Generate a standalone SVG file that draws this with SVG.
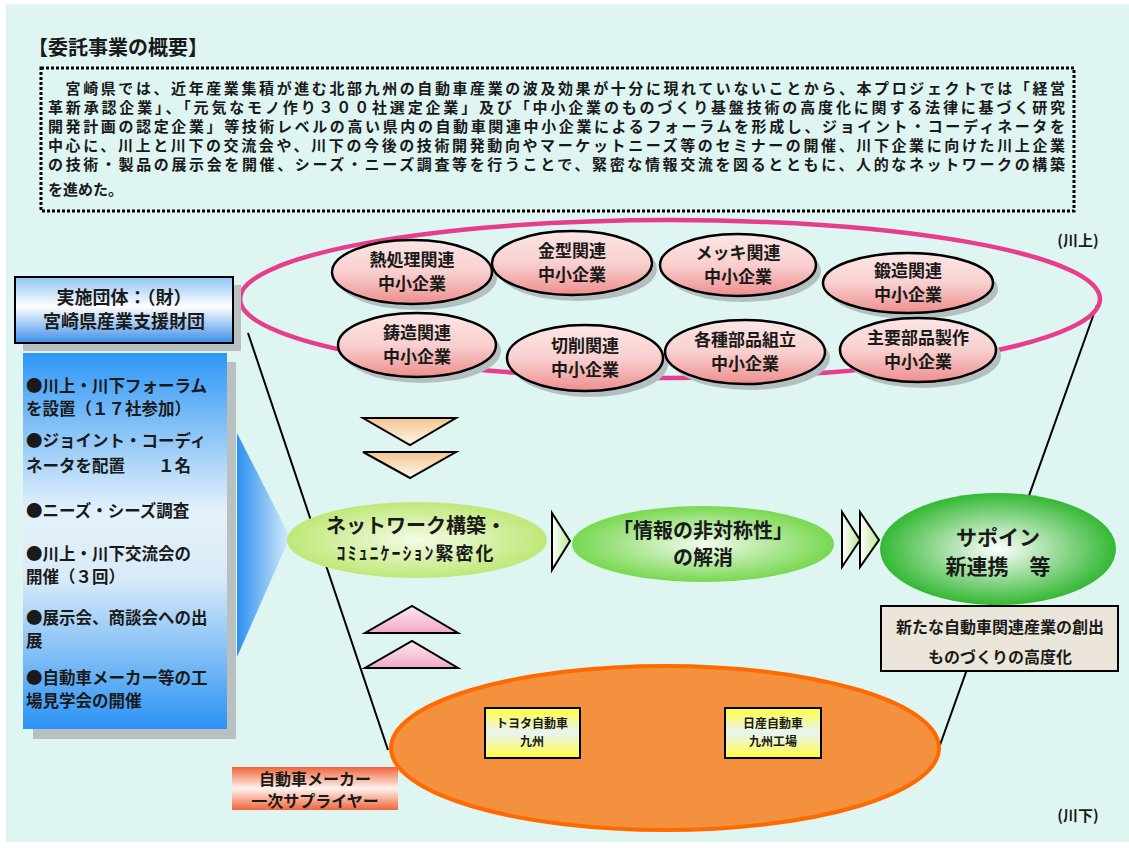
<svg xmlns="http://www.w3.org/2000/svg" width="1129" height="848" viewBox="0 0 1129 848">
<defs>
<linearGradient id="gPink" x1="0" y1="0" x2="0" y2="1"><stop offset="0" stop-color="#fbe6e4"/><stop offset="0.5" stop-color="#f8d0cf"/><stop offset="1" stop-color="#ee8e8e"/></linearGradient>
<linearGradient id="gBlue1" x1="0" y1="0" x2="0" y2="1"><stop offset="0" stop-color="#8ec4f2"/><stop offset="0.45" stop-color="#ffffff"/><stop offset="1" stop-color="#3a8ee8"/></linearGradient>
<linearGradient id="gBlue2" x1="0" y1="0" x2="0" y2="1"><stop offset="0" stop-color="#2e96f6"/><stop offset="0.42" stop-color="#e4f1fa"/><stop offset="0.6" stop-color="#d8ebf8"/><stop offset="1" stop-color="#2a92f4"/></linearGradient>
<linearGradient id="gTri" x1="0" y1="0" x2="1" y2="0"><stop offset="0" stop-color="#2d8ff0"/><stop offset="1" stop-color="#d6eefa"/></linearGradient>
<linearGradient id="gDown" x1="0" y1="0" x2="0" y2="1"><stop offset="0" stop-color="#f3c58f"/><stop offset="1" stop-color="#fdf6ea"/></linearGradient>
<linearGradient id="gUp" x1="0" y1="0" x2="0" y2="1"><stop offset="0" stop-color="#fde8f0"/><stop offset="1" stop-color="#f2a9c8"/></linearGradient>
<linearGradient id="gYel" x1="0" y1="0" x2="0" y2="1"><stop offset="0" stop-color="#ffff40"/><stop offset="0.5" stop-color="#e8f4f4"/><stop offset="1" stop-color="#ffff40"/></linearGradient>
<linearGradient id="gOrg" x1="0" y1="0" x2="0" y2="1"><stop offset="0" stop-color="#f0643a"/><stop offset="0.5" stop-color="#fff4ee"/><stop offset="1" stop-color="#f0643a"/></linearGradient>
<linearGradient id="gChev" x1="0" y1="0" x2="1" y2="0"><stop offset="0" stop-color="#ffffff"/><stop offset="1" stop-color="#b8e890"/></linearGradient>
<radialGradient id="gLG" cx="0.5" cy="0.5" r="0.5"><stop offset="0" stop-color="#f4fbe6"/><stop offset="1" stop-color="#bfe878"/></radialGradient>
<radialGradient id="gMG" cx="0.5" cy="0.5" r="0.5"><stop offset="0" stop-color="#f2fbee"/><stop offset="1" stop-color="#78d850"/></radialGradient>
<radialGradient id="gDG" cx="0.5" cy="0.5" r="0.5"><stop offset="0" stop-color="#ffffff"/><stop offset="1" stop-color="#34b834"/></radialGradient>
<style>
text{font-family:"Noto Sans CJK JP","Noto Sans CJK SC",sans-serif;font-weight:bold;fill:#1a1a1a}
.body{font-size:15px}
.sm{font-size:17px;text-anchor:middle}
.se{fill:url(#gPink);stroke:#000;stroke-width:2.5}
.sh{fill:#b4c0c0}
.ln{stroke:#000;stroke-width:2;fill:none}
.c{text-anchor:middle}
.bl{font-size:16.5px}
</style>
</defs>
<rect x="0" y="0" width="1129" height="848" fill="#ffffff"/>
<rect x="6" y="4" width="1123" height="838" fill="#dff5f2"/>

<g id="summary">
<text x="28" y="55" style="font-size:20px">【委託事業の概要】</text>
<rect x="41" y="68" width="1033" height="143" fill="none" stroke="#000" stroke-width="3" stroke-dasharray="3 2"/>
<text class="body" x="48" y="94" textLength="1017" lengthAdjust="spacing">　宮崎県では、近年産業集積が進む北部九州の自動車産業の波及効果が十分に現れていないことから、本プロジェクトでは「経営</text>
<text class="body" x="48" y="113" textLength="1017" lengthAdjust="spacing">革新承認企業」、「元気なモノ作り３００社選定企業」及び「中小企業のものづくり基盤技術の高度化に関する法律に基づく研究</text>
<text class="body" x="48" y="132" textLength="1017" lengthAdjust="spacing">開発計画の認定企業」等技術レベルの高い県内の自動車関連中小企業によるフォーラムを形成し、ジョイント・コーディネータを</text>
<text class="body" x="48" y="151" textLength="1017" lengthAdjust="spacing">中心に、川上と川下の交流会や、川下の今後の技術開発動向やマーケットニーズ等のセミナーの開催、川下企業に向けた川上企業</text>
<text class="body" x="48" y="170" textLength="1017" lengthAdjust="spacing">の技術・製品の展示会を開催、シーズ・ニーズ調査等を行うことで、緊密な情報交流を図るとともに、人的なネットワークの構築</text>
<text class="body" x="48" y="195">を進めた。</text>
</g>

<g id="connectors">
<line class="ln" x1="248" y1="333" x2="388" y2="750"/>
<line class="ln" x1="1097" y1="305" x2="940" y2="745"/>
<polygon points="237,433 290,537 237,657" fill="url(#gTri)"/>
<polygon points="363,418 456,418 410,445" fill="url(#gDown)" stroke="#000" stroke-width="2"/>
<polygon points="363,452 456,452 410,478" fill="url(#gDown)" stroke="#000" stroke-width="2"/>
<polygon points="365,633 458,633 412,606" fill="url(#gUp)" stroke="#000" stroke-width="2"/>
<polygon points="365,668 458,668 412,641" fill="url(#gUp)" stroke="#000" stroke-width="2"/>
<polygon points="552,513 570,541 552,570" fill="url(#gChev)" stroke="#000" stroke-width="2"/>
<polygon points="842,512 860,540 842,567" fill="url(#gChev)" stroke="#000" stroke-width="2"/>
<polygon points="860,512 879,540 860,567" fill="url(#gChev)" stroke="#000" stroke-width="2"/>
</g>

<g id="upstream">
<ellipse cx="670" cy="299" rx="430" ry="79" fill="none" stroke="#e83c8c" stroke-width="4.5"/>
<text x="1078" y="246" class="c" style="font-size:15px">(川上)</text>
</g>

<g id="node-netsushori"><ellipse class="sh" cx="417" cy="278" rx="80" ry="32"/><ellipse class="se" cx="412" cy="272" rx="80" ry="32"/><text class="sm" x="412" y="266">熱処理関連<tspan x="412" dy="24">中小企業</tspan></text></g>
<g id="node-kanagata"><ellipse class="sh" cx="577" cy="269" rx="80" ry="32"/><ellipse class="se" cx="572" cy="263" rx="80" ry="32"/><text class="sm" x="572" y="257">金型関連<tspan x="572" dy="24">中小企業</tspan></text></g>
<g id="node-mekki"><ellipse class="sh" cx="743" cy="271" rx="78" ry="31"/><ellipse class="se" cx="738" cy="265" rx="78" ry="31"/><text class="sm" x="738" y="259">メッキ関連<tspan x="738" dy="24">中小企業</tspan></text></g>
<g id="node-tanzo"><ellipse class="sh" cx="913" cy="289" rx="85" ry="30"/><ellipse class="se" cx="908" cy="283" rx="85" ry="30"/><text class="sm" x="908" y="277">鍛造関連<tspan x="908" dy="24">中小企業</tspan></text></g>
<g id="node-chuzo"><ellipse class="sh" cx="422" cy="351" rx="79" ry="32"/><ellipse class="se" cx="417" cy="345" rx="79" ry="32"/><text class="sm" x="417" y="339">鋳造関連<tspan x="417" dy="24">中小企業</tspan></text></g>
<g id="node-sessaku"><ellipse class="sh" cx="590" cy="364" rx="78" ry="33"/><ellipse class="se" cx="585" cy="358" rx="78" ry="33"/><text class="sm" x="585" y="352">切削関連<tspan x="585" dy="24">中小企業</tspan></text></g>
<g id="node-kumitate"><ellipse class="sh" cx="750" cy="358" rx="80" ry="32"/><ellipse class="se" cx="745" cy="352" rx="80" ry="32"/><text class="sm" x="745" y="346">各種部品組立<tspan x="745" dy="24">中小企業</tspan></text></g>
<g id="node-shuyo"><ellipse class="sh" cx="923" cy="356" rx="78" ry="32"/><ellipse class="se" cx="918" cy="350" rx="78" ry="32"/><text class="sm" x="918" y="344">主要部品製作<tspan x="918" dy="24">中小企業</tspan></text></g>

<g id="node-org">
<rect x="23" y="285" width="218" height="66" fill="#b8c0c0"/>
<rect x="15" y="277" width="218" height="66" fill="url(#gBlue1)" stroke="#000" stroke-width="2"/>
<text class="c" x="124" y="304" style="font-size:18px">実施団体：（財）<tspan x="124" dy="24">宮崎県産業支援財団</tspan></text>
</g>

<g id="node-activities">
<rect x="33" y="362" width="203" height="377" fill="#b8c0c0"/>
<rect x="23" y="353" width="204" height="376" fill="url(#gBlue2)"/>
<text class="bl" x="26" y="392">●川上・川下フォーラム<tspan x="26" dy="23">を設置（１７社参加）</tspan></text>
<text class="bl" x="26" y="447">●ジョイント・コーディ<tspan x="26" dy="25">ネータを配置　　１名</tspan></text>
<text class="bl" x="26" y="517">●ニーズ・シーズ調査</text>
<text class="bl" x="26" y="560">●川上・川下交流会の<tspan x="26" dy="23">開催（３回）</tspan></text>
<text class="bl" x="26" y="624">●展示会、商談会への出<tspan x="26" dy="23">展</tspan></text>
<text class="bl" x="26" y="684">●自動車メーカー等の工<tspan x="26" dy="23">場見学会の開催</tspan></text>
</g>

<g id="node-network">
<ellipse cx="417" cy="540" rx="130" ry="38" fill="url(#gLG)"/>
<text class="c" x="416" y="533" style="font-size:20px">ネットワーク構築・<tspan x="416" dy="27" style="font-size:18px;letter-spacing:2px">ｺﾐｭﾆｹｰｼｮﾝ緊密化</tspan></text>
</g>

<g id="node-info">
<ellipse cx="703" cy="544" rx="131" ry="38" fill="url(#gMG)"/>
<text class="c" x="703" y="538" style="font-size:20px">「情報の非対称性」<tspan x="703" dy="27">の解消</tspan></text>
</g>

<g id="node-support">
<ellipse cx="998" cy="549" rx="118" ry="56" fill="url(#gDG)"/>
<text class="c" x="998" y="545" style="font-size:21px">サポイン<tspan x="998" dy="29">新連携　等</tspan></text>
</g>

<g id="node-result">
<rect x="881" y="606" width="237" height="65" fill="#ebe5da" stroke="#000" stroke-width="2"/>
<text class="c" x="1000" y="633" style="font-size:16px">新たな自動車関連産業の創出<tspan x="1000" dy="30">ものづくりの高度化</tspan></text>
</g>

<g id="node-downstream">
<ellipse cx="665" cy="748" rx="274" ry="82" fill="#f3913f" stroke="#ff6a00" stroke-width="4"/>
</g>

<g id="node-toyota">
<rect x="485" y="708" width="95" height="50" fill="url(#gYel)" stroke="#000" stroke-width="2"/>
<text class="c" x="532" y="728" style="font-size:12px">トヨタ自動車<tspan x="532" dy="18">九州</tspan></text>
</g>

<g id="node-nissan">
<rect x="725" y="708" width="96" height="50" fill="url(#gYel)" stroke="#000" stroke-width="2"/>
<text class="c" x="773" y="728" style="font-size:12px">日産自動車<tspan x="773" dy="18">九州工場</tspan></text>
</g>

<g id="node-maker">
<rect x="232" y="767" width="166" height="43" fill="url(#gOrg)"/>
<text class="c" x="315" y="785" style="font-size:16px">自動車メーカー<tspan x="315" dy="22">一次サプライヤー</tspan></text>
</g>

<text x="1078" y="821" class="c" style="font-size:15px">(川下)</text>
</svg>
